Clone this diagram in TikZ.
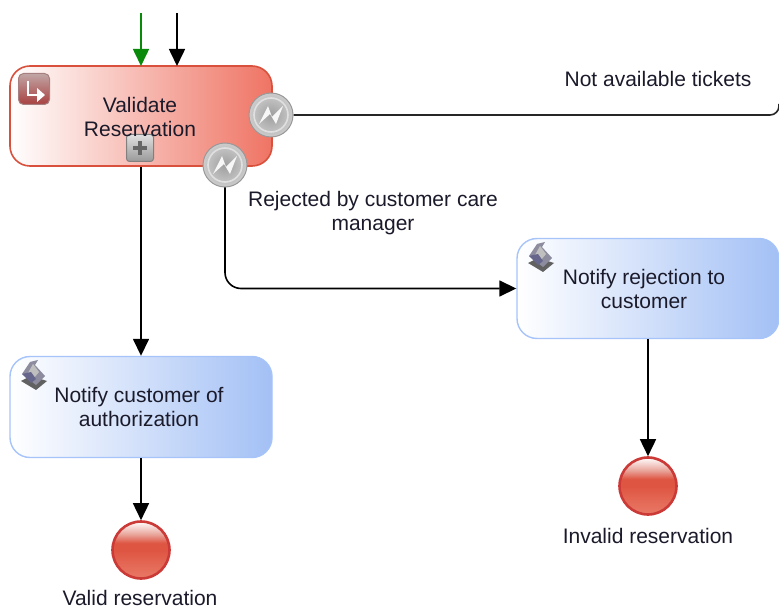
\documentclass[tikz,border=0pt]{standalone}
\usepackage{fontspec}
\setmainfont{Liberation Sans}
\usetikzlibrary{arrows.meta,calc}
\definecolor{txt}{HTML}{1A1A2A}
\definecolor{redb}{HTML}{D9503C}
\definecolor{redf}{HTML}{EF7464}
\definecolor{blueb}{HTML}{A6C4FA}
\definecolor{bluef}{HTML}{A3C0F5}
\definecolor{green}{HTML}{0A8A0A}
\definecolor{ballring}{HTML}{CC3A38}
\definecolor{ballbot}{HTML}{E87865}
\definecolor{ballmid}{HTML}{DE5542}
\definecolor{balltop}{HTML}{E9A79C}
\pgfdeclareverticalshading{ballshade}{100bp}{
  color(0bp)=(ballbot);
  color(25bp)=(ballbot);
  color(34bp)=(ballbot!70!ballmid);
  color(50bp)=(ballmid);
  color(56bp)=(ballmid);
  color(64bp)=(balltop);
  color(75bp)=(white);
  color(100bp)=(white)}
\tikzset{
  lbl/.style={text=txt,font=\fontsize{21}{24}\selectfont,align=center,inner sep=0pt,text depth=0pt},
  redtask/.style={draw=redb,line width=1.6pt,rounded corners=20pt,minimum width=262pt,minimum height=100pt,inner sep=0pt,left color=white,right color=redf},
  bluetask/.style={draw=blueb,line width=1.4pt,rounded corners=20pt,minimum width=262pt,minimum height=101pt,inner sep=0pt,left color=white,right color=bluef},
  flow/.style={draw=black,line width=1.6pt,-{Triangle[length=17pt,width=16pt]}},
  plainflow/.style={draw=black!85,line width=1.6pt},
  gflow/.style={draw=green,line width=1.6pt,-{Triangle[length=17pt,width=16pt,fill=green]}},
  endev/.style={circle,draw=ballring,line width=2.6pt,minimum size=57pt,inner sep=0pt,shading=ballshade},
  bev/.style={circle,draw=black!40,line width=1pt,minimum size=44pt,inner sep=0pt,inner color=black!38,outer color=black!20},
}
\newcommand{\serviceicon}[2]{%
  \begin{scope}[shift={(#1,#2)}]
    \fill[black!62] (-13,5) -- (-3,0) -- (13,5) -- (2,14) -- cycle;
    \fill[blue!15!black!45] (-12,-2) -- (-4,-14) -- (4,-16) -- (1,-11) -- (11,0) -- (2,9) -- cycle;
    \fill[black!25] (-6,-3) -- (-1,-12) -- (5,-4) -- (0,2) -- cycle;
    \fill[blue!25!black!60] (-12,-2) -- (-3,-4) -- (2,3) -- (-3,7) -- cycle;
  \end{scope}}
\newcommand{\zigzag}[2]{%
  \draw[black!12,line width=1.6pt] (#1,#2) circle[radius=17pt];
  \fill[white!94!gray] (#1-12,#2+9) -- (#1-3,#2-9) -- (#1+1,#2+2) -- (#1+12,#2-9) -- (#1+5,#2+9) -- (#1-1,#2-1) -- cycle;}
\begin{document}
\begin{tikzpicture}[x=1pt,y=-1pt]
\useasboundingbox (0,0) rectangle (779,609);
% tasks
\node[redtask] (validate) at (141,116) {};
\node[bluetask] (custnotify) at (141,407) {};
\node[bluetask,minimum height=100pt] (rejnotify) at (648,288.5) {};
% end events
\node[endev] (validend) at (141,550) {};
\node[endev] (invalidend) at (648,486) {};
% connectors
\coordinate (greenstart) at (141,13);
\coordinate (blackstart) at (177,13);
\coordinate (greenend) at (141,66);
\coordinate (blackend) at (177,66);
\coordinate (offright) at (779,104);
\draw[gflow] (greenstart) -- (greenend);
\draw[flow] (blackstart) -- (blackend);
\draw[flow] (validate.south) -- (custnotify.north);
\draw[flow] (custnotify.south) -- (validend.north);
\draw[flow] (rejnotify.south) -- (invalidend.north);
% boundary events
\node[bev] (evtickets) at (271,115) {};
\node[bev] (evrejected) at (225,165) {};
\zigzag{271}{115}
\zigzag{225}{165}
\draw[plainflow,rounded corners=9pt] (evtickets.east) -- (779,115) -- (offright);
\draw[flow,rounded corners=16pt] (evrejected.south) |- (rejnotify.west);
% markers
\node[draw=black!50,line width=1pt,rounded corners=3pt,minimum size=27pt,inner sep=0pt,top color=black!12,bottom color=black!40] (plus) at (140,148) {};
\fill[black!60] (133,146) rectangle (147,150);
\fill[black!60] (138,141) rectangle (142,155);
\node[draw=red!30!black!50,line width=1pt,rounded corners=5pt,minimum size=31pt,inner sep=0pt,top color=red!30!black!35,bottom color=red!55!black!75] (loopicon) at (34,89) {};
\draw[white,line width=2.8pt] (28,81) -- (28,95) -- (38,95);
\fill[white] (37,88) -- (45,95) -- (37,102) -- cycle;
\serviceicon{34}{376}
\serviceicon{541}{258}
% labels
\node[lbl] (validatelbl) at (140,117) {Validate\\Reservation};
\node[lbl] (custlbl) at (139,407) {Notify customer of\\authorization};
\node[lbl] (rejlbl) at (644,289) {Notify rejection to\\customer};
\node[lbl] (ticketslbl) at (658,79) {Not available tickets};
\node[lbl] (rejectedlbl) at (373,211) {Rejected by customer care\\manager};
\node[lbl] (validlbl) at (140,597.5) {Valid reservation};
\node[lbl] (invalidlbl) at (648,536) {Invalid reservation};
\end{tikzpicture}
\end{document}
